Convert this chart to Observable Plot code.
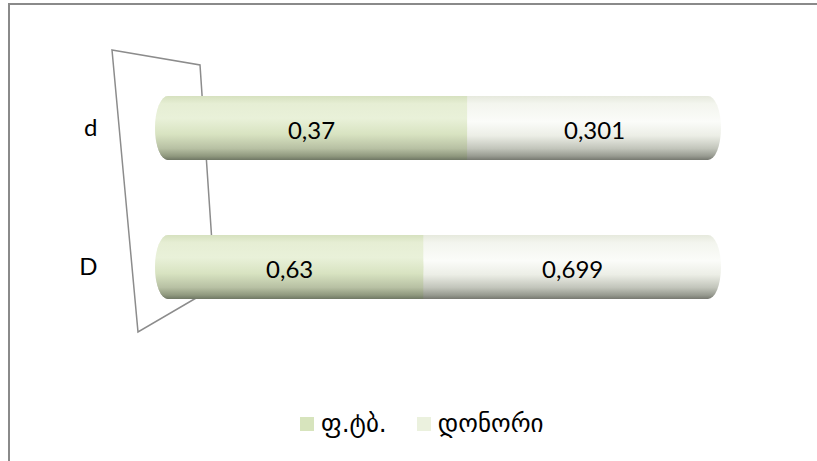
<!DOCTYPE html>
<html>
<head>
<meta charset="utf-8">
<script src="https://cdn.jsdelivr.net/npm/d3@7"></script>
<script src="https://cdn.jsdelivr.net/npm/@observablehq/plot@0.6"></script>
<style>
  html, body { margin: 0; padding: 0; background: #fff; }
  body { width: 817px; height: 461px; position: relative; overflow: hidden; font-family: Lato, "DejaVu Sans", sans-serif; }
  #frame { position: absolute; left: 8px; top: 3px; width: 900px; height: 520px; border-left: 2px solid #8a8a8a; border-top: 2px solid #8a8a8a; }
  #chart { position: absolute; left: 0; top: 0; }
  #legend { position: absolute; left: 300px; top: 409px; display: flex; align-items: center; font-size: 25px; color: #000; font-family: "DejaVu Sans", sans-serif; }
  .item { display: flex; align-items: center; margin-right: 30px; }
  .swatch { width: 14px; height: 14px; margin-right: 7px; }
</style>
</head>
<body>
<div id="frame"></div>
<div id="chart"></div>
<div id="legend"></div>
<script>
// Categories, series and their values
const categories = ["d", "D"];
const seriesNames = ["ფ.ტბ.", "დონორი"];
const ftbValues = [0.37, 0.63];
const donorValues = [0.301, 0.699];
const seriesColors = ["#d7e4bd", "#ebf1de"];

// Each row is one stacked segment; positions are shares of the category total
const rows = [];
categories.forEach((cat, i) => {
  const vals = [ftbValues[i], donorValues[i]];
  const total = d3.sum(vals);
  let acc = 0;
  vals.forEach((v, j) => {
    rows.push({cat, series: seriesNames[j], value: v, x1: acc / total, x2: (acc + v) / total});
    acc += v;
  });
});
const firstRows = rows.filter(r => r.series === seriesNames[0]);
const totals = categories.map(cat => ({cat, x1: 0, x2: 1}));

const fmt = v => String(v).replace(".", ",");

// Back wall of the category axis, drawn in perspective at x = 0
function wall(index, scales, values, dimensions) {
  const x0 = scales.x(0);
  const top = dimensions.marginTop;
  const bottom = dimensions.height - dimensions.marginBottom;
  const pts = [[x0 - 43, top + 31], [x0 + 45, top + 46], [x0 + 60, bottom - 88], [x0 - 17, bottom - 43]];
  const g = d3.create("svg:g");
  g.append("path")
    .attr("d", "M" + pts.map(p => p.join(",")).join("L") + "Z")
    .attr("fill", "none")
    .attr("stroke", "#8c8c8c")
    .attr("stroke-width", 1.5);
  return g.node();
}

const plot = Plot.plot({
  width: 817,
  height: 390,
  marginLeft: 155,
  marginRight: 96,
  marginTop: 19,
  marginBottom: 15,
  style: {fontFamily: "Lato, 'DejaVu Sans', sans-serif", fontSize: "24px", color: "#000", background: "transparent"},
  x: {domain: [0, 1], axis: null},
  y: {domain: categories, padding: 0.543, label: null, tickSize: 0, tickPadding: 58},
  marks: [
    wall,
    // whole cylinder, rounded at both ends
    Plot.barX(totals, {x1: "x1", x2: "x2", y: "cat", fill: "url(#cylWhite)", rx: 13, ry: 32}),
    // first segment, rounded at its left end
    Plot.barX(firstRows, {x1: "x1", x2: "x2", y: "cat", fill: "url(#cylGreen)", rx: 13, ry: 32}),
    // squared join between the two segments
    Plot.barX(firstRows, {x1: d => (d.x1 + d.x2) / 2, x2: "x2", y: "cat", fill: "url(#cylGreen)"}),
    Plot.text(rows, {x: d => (d.x1 + d.x2) / 2, y: "cat", text: d => fmt(d.value), fontSize: 24, fill: "#000", dy: 3})
  ]
});

// Vertical shading that gives the bars a cylindrical look
const defs = d3.select(plot).insert("defs", ":first-child");
function cylinder(id, stops) {
  const lg = defs.append("linearGradient").attr("id", id)
    .attr("x1", 0).attr("y1", 0).attr("x2", 0).attr("y2", 1);
  stops.forEach(([o, c]) => lg.append("stop").attr("offset", o).attr("stop-color", c));
}
cylinder("cylGreen", [[0, "#d6e1bf"], [0.12, "#e6eed4"], [0.35, "#e9f1d9"], [0.6, "#d8e3c1"], [0.82, "#b7c0a3"], [0.94, "#8f987e"], [1, "#6f7764"]]);
cylinder("cylWhite", [[0, "#e6e9dd"], [0.12, "#f3f5ee"], [0.4, "#fbfcf9"], [0.62, "#eceee6"], [0.82, "#c2c5bb"], [0.94, "#979a90"], [1, "#767870"]]);

document.getElementById("chart").appendChild(plot);

// Legend
const legend = d3.select("#legend");
seriesNames.forEach((name, i) => {
  const item = legend.append("div").attr("class", "item");
  item.append("div").attr("class", "swatch").style("background", seriesColors[i]);
  item.append("span").text(name);
});
</script>
</body>
</html>
